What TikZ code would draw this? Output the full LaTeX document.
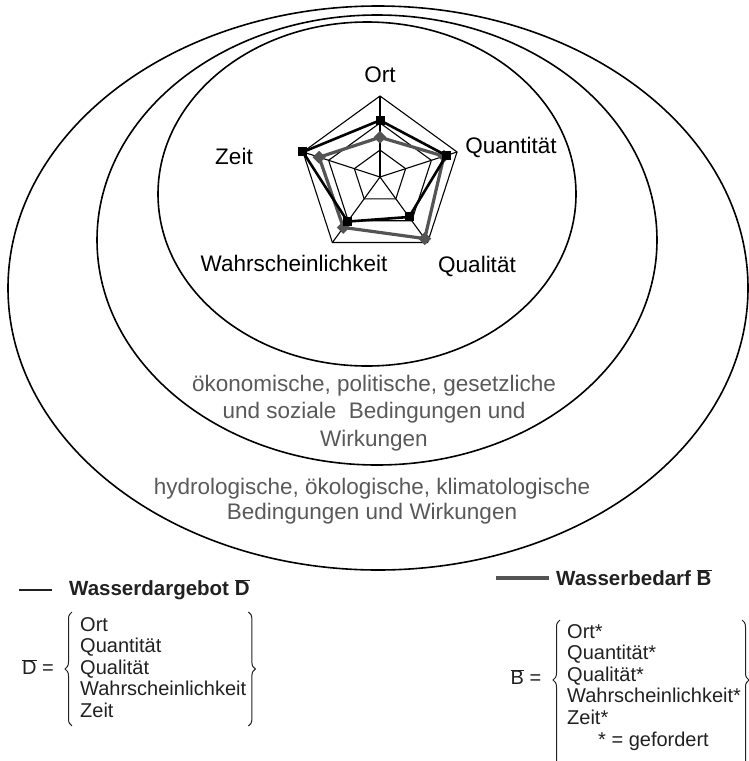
\documentclass[tikz,border=0pt]{standalone}
\usepackage{fontspec}
\setmainfont{Liberation Sans}
\usetikzlibrary{shapes.geometric, decorations.pathreplacing}

\definecolor{ringgray}{gray}{0.35}
\definecolor{bedarfgray}{gray}{0.33}
\definecolor{legendblack}{gray}{0.13}

\tikzset{
  ring/.style={line width=1.6pt},
  ringtext/.style={text=ringgray, align=center, inner sep=0pt},
  axislabel/.style={font=\fontsize{22.5}{26}\selectfont, inner sep=0pt},
  gridline/.style={line width=1.1pt},
  angebot/.style={line width=2.6pt, black, line join=round},
  bedarf/.style={line width=3.2pt, bedarfgray, line join=round},
  amark/.style={rectangle, fill=black, minimum size=9pt, inner sep=0pt},
  bmark/.style={diamond, fill=bedarfgray, minimum size=13pt, inner sep=0pt},
  legendhead/.style={font=\fontsize{20.5}{24}\selectfont\bfseries, text=legendblack, inner sep=0pt},
  legendtext/.style={font=\fontsize{20}{21.6}\selectfont, text=legendblack, align=left, inner sep=0pt},
  bracket/.style={decorate, decoration={brace, amplitude=7pt}, line width=1pt, legendblack}
}

\begin{document}
\begin{tikzpicture}[x=1pt, y=-1pt]
\useasboundingbox (0,0) rectangle (749,761);
\def\R{81}

% the three fields
\draw[ring] (378,288) ellipse [x radius=370, y radius=282];
\draw[ring] (377,240) ellipse [x radius=280, y radius=225];
\draw[ring] (367,194) ellipse [x radius=209, y radius=172];

% radar chart
\begin{scope}[shift={(380,177)}, yscale=-1]
  \foreach \f in {0.333, 0.667, 1}
    \draw[gridline] (90:{\f*\R}) -- (18:{\f*\R}) -- (-54:{\f*\R}) -- (-126:{\f*\R}) -- (162:{\f*\R}) -- cycle;
  \foreach \a in {90, 18, -54, -126, 162}
    \draw[gridline] (0,0) -- (\a:\R);

  % Wasserbedarf
  \coordinate (b1) at (90:{0.49*\R});
  \coordinate (b2) at (18:{0.83*\R});
  \coordinate (b3) at (-54:{0.94*\R});
  \coordinate (b4) at (-126:{0.77*\R});
  \coordinate (b5) at (162:{0.79*\R});
  \draw[bedarf] (b1) -- (b2) -- (b3) -- (b4) -- (b5) -- cycle;
  \foreach \n in {1,...,5}
    \node[bmark] (bm\n) at (b\n) {};

  % Wasserdargebot
  \coordinate (d1) at (90:{0.70*\R});
  \coordinate (d2) at (18:{0.86*\R});
  \coordinate (d3) at (-54:{0.61*\R});
  \coordinate (d4) at (-126:{0.68*\R});
  \coordinate (d5) at (162:{1.0*\R});
  \draw[angebot] (d1) -- (d2) -- (d3) -- (d4) -- (d5) -- cycle;
  \foreach \n in {1,...,5}
    \node[amark] (dm\n) at (d\n) {};
\end{scope}

%axis labels
\node[axislabel] (ort) at (380,75) {Ort};
\node[axislabel] (quant) at (511,147) {Quantität};
\node[axislabel] (qual) at (477,266) {Qualität};
\node[axislabel] (wahr) at (294,263) {Wahrscheinlichkeit};
\node[axislabel] (zeit) at (234,156) {Zeit};

%field labels
\node[ringtext, font=\fontsize{22.5}{27.5}\selectfont] (oekon) at (374,413)
  {ökonomische, politische, gesetzliche\\und soziale\ \ Bedingungen und\\Wirkungen};
\node[ringtext, font=\fontsize{22.5}{25.5}\selectfont] (hydro) at (372,501)
  {hydrologische, ökologische, klimatologische\\Bedingungen und Wirkungen};

%legend Wasserdargebot
\draw[line width=1.4pt, legendblack] (19,590) -- ++(33,0);
\node[legendhead, anchor=west] (angebot) at (69,590) {Wasserdargebot $\overline{\mbox{D}}$};
\node[legendtext, anchor=north west] (dlist) at (80,617)
  {Ort\\Quantität\\Qualität\\Wahrscheinlichkeit\\Zeit};
\node[legendtext] (deq) at (38,667) {$\overline{\mbox{D}}$ =};
\draw[bracket] ([xshift=-8pt, yshift=-8pt]dlist.south west) -- ([xshift=-8pt, yshift=5pt]dlist.north west);
\draw[bracket] ([xshift=2pt, yshift=5pt]dlist.north east) -- ([xshift=2pt, yshift=-8pt]dlist.south east);

%legend Wasserbedarf
\draw[line width=4pt, bedarfgray] (496,578) -- ++(53,0);
\node[legendhead, anchor=west] (bedarf) at (556,578) {Wasserbedarf $\overline{\mbox{B}}$};
\node[legendtext, anchor=north west] (blist) at (567,624)
  {Ort*\\Quantität*\\Qualität*\\Wahrscheinlichkeit*\\Zeit*\\\hspace{31pt}* = gefordert};
\node[legendtext] (beq) at (526,677) {$\overline{\mbox{B}}$ =};
\coordinate (bl) at (560,620);
\coordinate (br) at (742,620);
\draw[bracket, decoration={aspect=0.6}] ([yshift=-150pt]bl) -- (bl);
\draw[bracket, decoration={aspect=0.4}] (br) -- ([yshift=-150pt]br);
\end{tikzpicture}
\end{document}
